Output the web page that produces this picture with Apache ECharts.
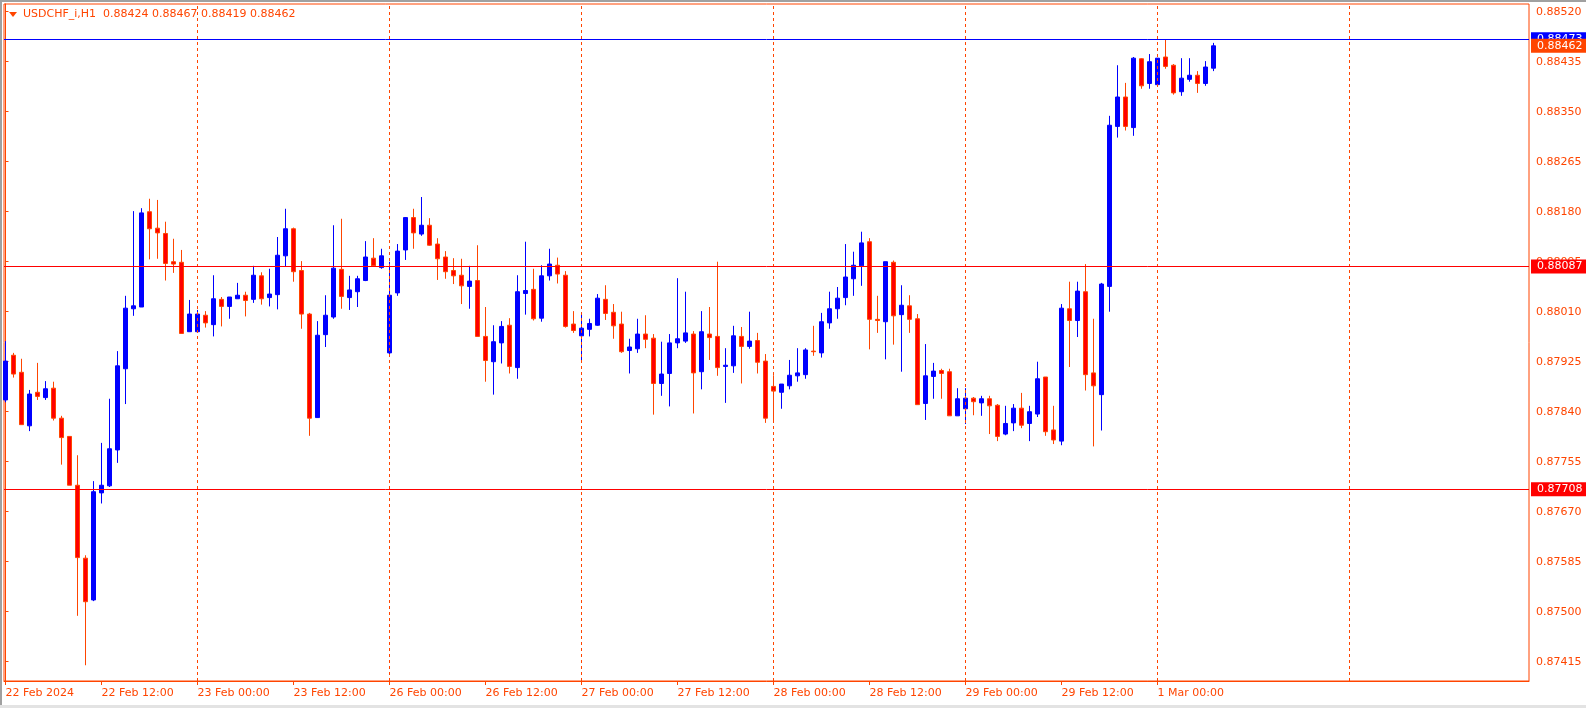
<!DOCTYPE html>
<html><head><meta charset="utf-8">
<script src="https://cdn.jsdelivr.net/npm/echarts@6/dist/echarts.min.js"></script>
<style>html,body{margin:0;padding:0;background:#fff}#c{width:1586px;height:708px}</style>
</head><body><div id="c"></div>
<script>
// ---------- DATA ----------
const symbolTitle = "USDCHF_i,H1";
const lastOHLC = [0.88424, 0.88467, 0.88419, 0.88462];

const openP = [
0.87860,0.87936,0.87907,0.87816,0.87873,0.87864,0.87880,0.87829,0.87798,0.87715,
0.87591,0.87520,0.87702,0.87714,0.87775,0.87913,0.88015,0.88018,0.88180,0.88152,
0.88143,0.88095,0.88094,0.87976,0.87976,0.88004,0.87988,0.88031,0.88019,0.88032,
0.88038,0.88031,0.88071,0.88034,0.88039,0.88105,0.88151,0.88080,0.88006,0.87830,
0.87971,0.88001,0.88082,0.88034,0.88044,0.88063,0.88101,0.88085,0.87940,0.88042,
0.88115,0.88170,0.88142,0.88157,0.88125,0.88103,0.88080,0.88072,0.88053,0.88063,
0.87968,0.87925,0.87957,0.87987,0.87915,0.88041,0.88048,0.87999,0.88071,0.88089,
0.88072,0.87989,0.87969,0.87980,0.87987,0.88031,0.88009,0.87989,0.87944,0.87947,
0.87972,0.87965,0.87888,0.87905,0.87957,0.87960,0.87972,0.87908,0.87972,0.87968,
0.87917,0.87918,0.87968,0.87951,0.87961,0.87926,0.87883,0.87873,0.87884,0.87901,
0.87903,0.87943,0.87940,0.87991,0.88015,0.88034,0.88066,0.88088,0.88129,0.87997,
0.87993,0.88094,0.88005,0.88020,0.87998,0.87854,0.87900,0.87910,0.87908,0.87833,
0.87845,0.87863,0.87855,0.87862,0.87851,0.87802,0.87821,0.87846,0.87820,0.87836,
0.87899,0.87809,0.87790,0.88015,0.87995,0.88044,0.87906,0.87869,0.88053,0.88325,
0.88375,0.88323,0.88440,0.88398,0.88396,0.88443,0.88429,0.88384,0.88405,0.88412,
0.88398,0.88424
];
const highP = [
0.87960,0.87940,0.87930,0.87877,0.87923,0.87892,0.87891,0.87833,0.87798,0.87766,
0.87596,0.87722,0.87787,0.87862,0.87943,0.88037,0.88181,0.88186,0.88202,0.88200,
0.88163,0.88134,0.88115,0.88030,0.88013,0.88011,0.88072,0.88035,0.88035,0.88059,
0.88044,0.88088,0.88077,0.88083,0.88137,0.88185,0.88153,0.88096,0.88008,0.87994,
0.88038,0.88157,0.88168,0.88071,0.88071,0.88130,0.88135,0.88117,0.88095,0.88125,
0.88171,0.88185,0.88205,0.88169,0.88135,0.88113,0.88101,0.88100,0.88088,0.88123,
0.88018,0.87987,0.87994,0.87999,0.88072,0.88129,0.88083,0.88089,0.88117,0.88102,
0.88079,0.88011,0.88006,0.87998,0.88040,0.88055,0.88023,0.88010,0.87964,0.87998,
0.88004,0.87972,0.87959,0.87972,0.88067,0.88044,0.87977,0.88011,0.88018,0.88095,
0.87948,0.87986,0.87984,0.88010,0.87974,0.87938,0.87902,0.87887,0.87928,0.87948,
0.87948,0.87986,0.88008,0.88044,0.88052,0.88125,0.88112,0.88146,0.88135,0.88037,
0.88095,0.88097,0.88055,0.88038,0.88006,0.87955,0.87923,0.87913,0.87913,0.87880,
0.87880,0.87865,0.87867,0.87867,0.87853,0.87850,0.87853,0.87872,0.87850,0.87925,
0.87899,0.87850,0.88023,0.88061,0.88061,0.88091,0.87998,0.88059,0.88343,0.88429,
0.88399,0.88443,0.88441,0.88448,0.88441,0.88472,0.88431,0.88441,0.88441,0.88419,
0.88436,0.88467
];
const lowP = [
0.87856,0.87898,0.87818,0.87807,0.87860,0.87860,0.87825,0.87750,0.87715,0.87493,
0.87409,0.87518,0.87684,0.87712,0.87753,0.87853,0.88003,0.88018,0.88099,0.88100,
0.88063,0.88076,0.87973,0.87976,0.87976,0.87983,0.87968,0.87985,0.87998,0.88032,
0.88002,0.88025,0.88022,0.88019,0.88014,0.88087,0.88061,0.87981,0.87799,0.87830,
0.87950,0.87998,0.88015,0.88013,0.88018,0.88062,0.88087,0.88083,0.87935,0.88037,
0.88098,0.88117,0.88139,0.88122,0.88064,0.88066,0.88057,0.88023,0.88015,0.87968,
0.87891,0.87869,0.87922,0.87905,0.87896,0.88005,0.87995,0.87993,0.88063,0.88058,
0.87983,0.87974,0.87925,0.87968,0.87986,0.87996,0.87964,0.87940,0.87905,0.87940,
0.87948,0.87835,0.87867,0.87849,0.87948,0.87957,0.87837,0.87878,0.87928,0.87901,
0.87855,0.87906,0.87888,0.87947,0.87905,0.87821,0.87821,0.87845,0.87878,0.87891,
0.87896,0.87935,0.87932,0.87981,0.87998,0.88021,0.88037,0.88054,0.87946,0.87974,
0.87929,0.87954,0.87908,0.87974,0.87852,0.87826,0.87862,0.87862,0.87833,0.87833,
0.87819,0.87834,0.87833,0.87802,0.87790,0.87800,0.87807,0.87812,0.87790,0.87831,
0.87799,0.87785,0.87783,0.87916,0.87967,0.87876,0.87781,0.87808,0.88010,0.88306,
0.88318,0.88309,0.88389,0.88389,0.88396,0.88423,0.88379,0.88377,0.88401,0.88382,
0.88394,0.88419
];
const closeP = [
0.87926,0.87904,0.87818,0.87870,0.87866,0.87879,0.87829,0.87796,0.87715,0.87592,
0.87517,0.87704,0.87715,0.87777,0.87918,0.88016,0.88020,0.88178,0.88151,0.88144,
0.88092,0.88091,0.87973,0.88006,0.88006,0.87991,0.88032,0.88019,0.88035,0.88038,
0.88029,0.88072,0.88032,0.88040,0.88106,0.88151,0.88078,0.88006,0.87829,0.87970,
0.88004,0.88084,0.88036,0.88047,0.88066,0.88103,0.88088,0.88105,0.88038,0.88113,
0.88170,0.88144,0.88157,0.88123,0.88100,0.88078,0.88071,0.88054,0.88062,0.87968,
0.87927,0.87959,0.87985,0.87917,0.88044,0.88046,0.87998,0.88071,0.88091,0.88074,
0.87985,0.87978,0.87982,0.87990,0.88033,0.88007,0.87986,0.87942,0.87950,0.87972,
0.87963,0.87888,0.87904,0.87957,0.87964,0.87974,0.87906,0.87976,0.87966,0.87915,
0.87919,0.87969,0.87951,0.87960,0.87924,0.87829,0.87875,0.87887,0.87902,0.87906,
0.87945,0.87942,0.87993,0.88015,0.88033,0.88069,0.88089,0.88127,0.87997,0.87995,
0.88095,0.88003,0.88021,0.87997,0.87852,0.87901,0.87909,0.87905,0.87833,0.87862,
0.87863,0.87857,0.87862,0.87850,0.87798,0.87820,0.87846,0.87817,0.87840,0.87896,
0.87806,0.87792,0.88016,0.87995,0.88045,0.87903,0.87884,0.88057,0.88327,0.88375,
0.88325,0.88441,0.88394,0.88435,0.88441,0.88427,0.88382,0.88407,0.88412,0.88398,
0.88426,0.88462
];

// time-axis labels (one every 12 H1 bars, starting at bar 0)
const xTickLabels = ["22 Feb 2024","22 Feb 12:00","23 Feb 00:00","23 Feb 12:00","26 Feb 00:00",
  "26 Feb 12:00","27 Feb 00:00","27 Feb 12:00","28 Feb 00:00","28 Feb 12:00",
  "29 Feb 00:00","29 Feb 12:00","1 Mar 00:00"];
const xTickBars = [0,12,24,36,48,60,72,84,96,108,120,132,144];
const dayGridBars = [24,48,72,96,120,144,168];
const yTickLabels = [0.87415,0.87500,0.87585,0.87670,0.87755,0.87840,0.87925,0.88010,
  0.88095,0.88180,0.88265,0.88350,0.88435,0.88520];
const hLineValues = [0.88473, 0.88087, 0.87708];
const hLineColors = ['#0000FF', '#FF0000', '#FF0000'];
const bidPrice = 0.88462;

// ---------- CHART ----------
const OR = '#FF4500';
const FONT = 'DejaVu Sans';
const candles = openP.map((o, i) => [i, o, closeP[i], lowP[i], highP[i]]);

const chart = echarts.init(document.getElementById('c'), null, {renderer: 'canvas'});

const levelItems = hLineValues.map((v, k) => ({v: v, line: hLineColors[k], bg: hLineColors[k]}));
levelItems.push({v: bidPrice, line: 'rgba(0,0,0,0)', bg: OR});

const levelSeries = levelItems.map((it, k) => ({
  type: 'line', data: [], z: 3 + k, silent: true,
  markLine: {
    silent: true, symbol: 'none', animation: false, precision: 5,
    lineStyle: {color: it.line, type: 'solid', width: 1},
    label: {
      show: true, position: 'end', distance: 2,
      formatter: () => it.v.toFixed(5),
      color: '#fff', fontFamily: FONT, fontSize: 11,
      backgroundColor: it.bg,
      padding: [1, 4, 0, 6], lineHeight: 13
    },
    data: [{yAxis: it.v}]
  }
}));

chart.setOption({
  animation: false,
  backgroundColor: '#fff',
  grid: {left: 4, right: 57, top: 4, bottom: 27, show: true, borderColor: OR, borderWidth: 1, backgroundColor: '#fff'},
  xAxis: {
    type: 'value', min: -0.1875, max: 190.4375,
    axisLine: {show: true, onZero: false, lineStyle: {color: OR}},
    axisTick: {show: true, length: 4, lineStyle: {color: OR}, customValues: xTickBars},
    axisLabel: {
      customValues: xTickBars,
      formatter: v => xTickLabels[xTickBars.indexOf(Math.round(v))] || '',
      color: OR, fontFamily: FONT, fontSize: 11, align: 'left', margin: 7
    },
    splitLine: {show: false}
  },
  yAxis: {
    type: 'value', position: 'right', min: 0.873822, max: 0.885331, scale: true,
    axisLine: {show: true, lineStyle: {color: OR}},
    axisTick: {show: true, length: 3, lineStyle: {color: OR}, customValues: yTickLabels},
    axisLabel: {
      customValues: yTickLabels,
      formatter: v => v.toFixed(5),
      color: OR, fontFamily: FONT, fontSize: 11, margin: 7
    },
    splitLine: {show: false}
  },
  series: [
    {
      type: 'line', data: [], z: 1, silent: true,
      markLine: {
        silent: true, symbol: 'none', animation: false,
        label: {show: false},
        lineStyle: {color: OR, type: [3, 3], width: 1},
        data: dayGridBars.map(b => ({xAxis: b}))
      }
    },
    {
      type: 'candlestick', z: 2, barWidth: 4,
      encode: {x: 0, y: [1, 2, 3, 4]},
      data: candles,
      itemStyle: {color: '#0000FF', color0: '#FF0000', borderColor: '#0000FF', borderColor0: '#FF4500', borderWidth: 1}
    }
  ].concat(levelSeries),
  graphic: [
    {type: 'rect', shape: {x: 0, y: 0, width: 2, height: 708}, style: {fill: '#a0a0a0'}, z: 10},
    {type: 'rect', shape: {x: 0, y: 0, width: 1586, height: 2}, style: {fill: '#a0a0a0'}, z: 10},
    {type: 'rect', shape: {x: 0, y: 705, width: 1586, height: 3}, style: {fill: '#e3e3e3'}, z: 10},
    {type: 'polygon', shape: {points: [[9, 12], [17, 12], [13, 17]]}, style: {fill: OR}, z: 10},
    {type: 'text', x: 23, y: 14, z: 10,
     style: {text: symbolTitle + '  ' + lastOHLC.map(v => v.toFixed(5)).join(' '),
             fill: OR, font: '11px "DejaVu Sans"', verticalAlign: 'middle'}}
  ]
});
</script>
</body></html>
